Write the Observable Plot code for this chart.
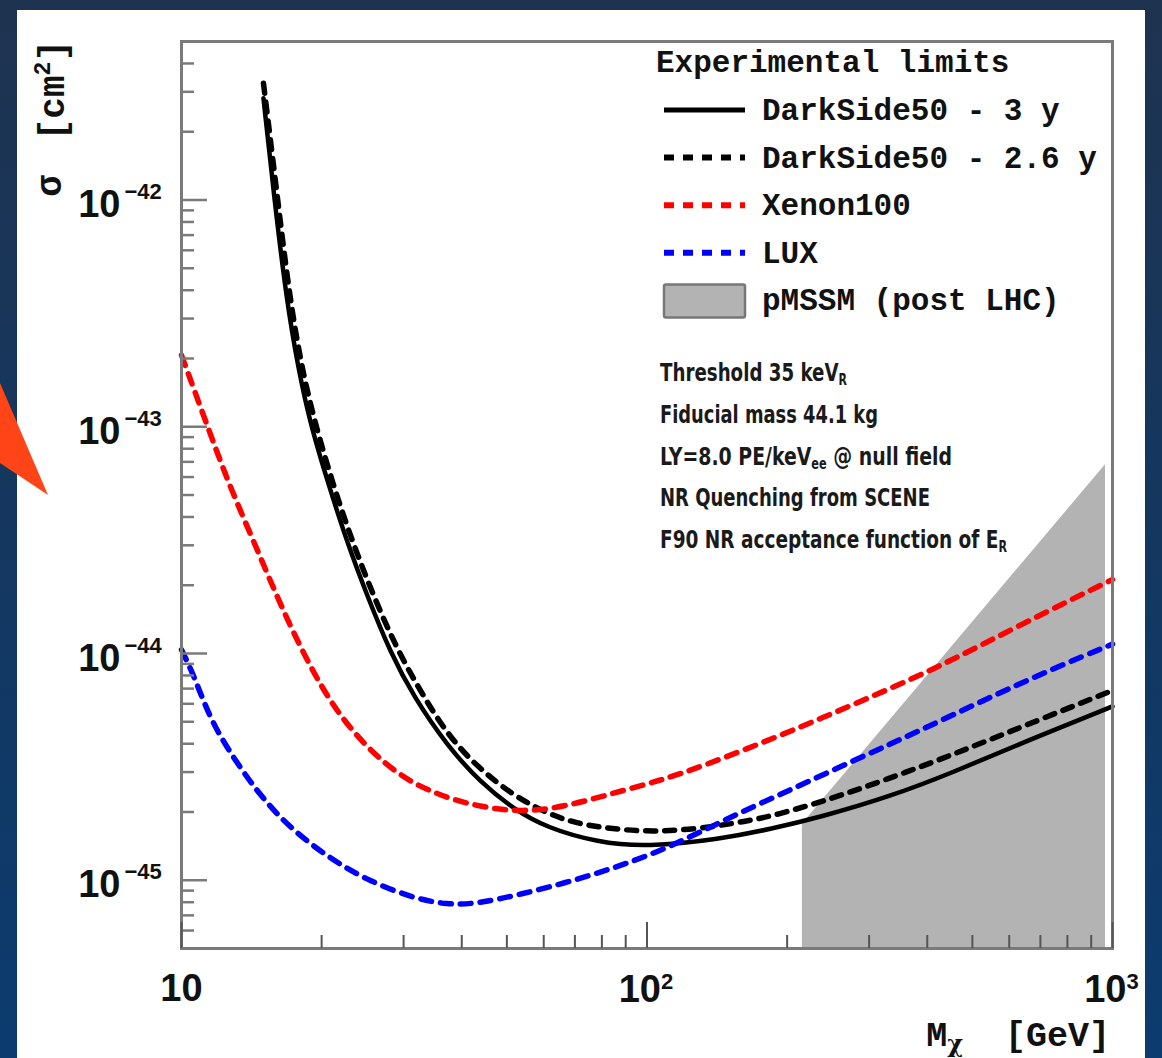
<!DOCTYPE html>
<html>
<head>
<meta charset="utf-8">
<script src="https://cdn.jsdelivr.net/npm/d3@7"></script>
<script src="https://cdn.jsdelivr.net/npm/@observablehq/plot@0.6"></script>
<style>
  html, body { margin: 0; padding: 0; }
  body {
    width: 1162px; height: 1058px; position: relative; overflow: hidden;
    background: linear-gradient(180deg, #1e3350 0%, #14375f 50%, #0b3b6f 100%);
  }
  #panel { position: absolute; left: 17px; top: 10px; width: 1128px; height: 1048px; background: #fff; }
  #chart { position: absolute; left: 0; top: 0; }
  #arrow {
    position: absolute; left: 0; top: 370px; width: 60px; height: 140px; background: #ff4517;
    clip-path: polygon(0px 13px, 48px 125px, 0px 93px);
  }
</style>
</head>
<body>
<div id="panel"></div>
<div id="chart"></div>
<div id="arrow"></div>
<script>
// ---------------- data ----------------
// DarkSide50 - 3 y (solid black)
const ds3Mass  = [15.0, 15.84, 16.81, 17.84, 18.93, 20.7, 22.7, 25.1, 28.1, 31.5, 37.3, 43.9, 51.7, 61.1, 78.3, 100, 144, 184, 236, 329, 455, 634, 1000];
const ds3Sigma = [2.81e-42, 1.0e-42, 3.63e-43, 1.78e-43, 1.02e-43, 5.55e-44, 3.08e-44, 1.78e-44, 1.01e-44, 6.47e-45, 3.89e-45, 2.70e-45, 2.06e-45, 1.70e-45, 1.47e-45, 1.40e-45, 1.52e-45, 1.68e-45, 1.90e-45, 2.32e-45, 2.99e-45, 4.01e-45, 5.84e-45];

// DarkSide50 - 2.6 y (dashed black)
const ds26Mass  = [15.0, 16.0, 16.98, 18.02, 19.2, 21.0, 23.07, 25.6, 28.8, 32.6, 38.4, 47.7, 56.2, 66.2, 78.3, 100, 128, 164, 191, 236, 329, 455, 634, 1000];
const ds26Sigma = [3.27e-42, 1.11e-42, 4.01e-43, 1.93e-43, 1.10e-43, 5.84e-44, 3.28e-44, 1.88e-44, 1.08e-44, 6.8e-45, 3.97e-45, 2.65e-45, 2.14e-45, 1.84e-45, 1.71e-45, 1.63e-45, 1.68e-45, 1.82e-45, 1.95e-45, 2.21e-45, 2.79e-45, 3.59e-45, 4.72e-45, 6.87e-45];

// Xenon100 (red dashed)
const xenonMass  = [10, 11.4, 12.7, 14.4, 16.3, 19.2, 22.7, 29.1, 37.3, 47.7, 61.1, 84.7, 107, 130, 194, 288, 427, 634, 1000];
const xenonSigma = [2.07e-43, 9.9e-44, 5.44e-44, 3.02e-44, 1.64e-44, 8.1e-45, 4.7e-45, 2.86e-45, 2.28e-45, 2.03e-45, 2.01e-45, 2.42e-45, 2.76e-45, 3.15e-45, 4.35e-45, 6.15e-45, 8.77e-45, 1.34e-44, 2.12e-44];

// LUX (blue dashed)
const luxMass  = [10, 10.5, 10.88, 11.71, 13.12, 14.86, 17.21, 20.7, 24.8, 31.0, 37.3, 43.9, 53.5, 67.5, 84.7, 105.3, 128.4, 158.8, 200.3, 287.5, 386.9, 538.9, 746.6, 1000];
const luxSigma = [1.04e-44, 8.42e-45, 7.01e-45, 4.82e-45, 3.31e-45, 2.32e-45, 1.68e-45, 1.26e-45, 1.01e-45, 8.41e-46, 7.76e-46, 7.92e-46, 8.67e-46, 9.79e-46, 1.13e-45, 1.33e-45, 1.61e-45, 1.99e-45, 2.47e-45, 3.48e-45, 4.58e-45, 6.34e-45, 8.59e-45, 1.10e-44];

// pMSSM (post LHC) shaded region
const pmssmMass  = [215.7, 966];
const pmssmLow   = [5e-46, 5e-46];
const pmssmHigh  = [1.77e-45, 6.8e-44];

// axes
const xDomain = [10, 1000];
const yDomain = [5e-46, 5e-42];
const xMajor = [10, 100, 1000];
const xMinor = [20, 30, 40, 50, 60, 70, 80, 90, 200, 300, 400, 500, 600, 700, 800, 900];
const yMajor = [1e-45, 1e-44, 1e-43, 1e-42];
const yMinor = [6e-46, 7e-46, 8e-46, 9e-46,
                2e-45, 3e-45, 4e-45, 5e-45, 6e-45, 7e-45, 8e-45, 9e-45,
                2e-44, 3e-44, 4e-44, 5e-44, 6e-44, 7e-44, 8e-44, 9e-44,
                2e-43, 3e-43, 4e-43, 5e-43, 6e-43, 7e-43, 8e-43, 9e-43,
                2e-42, 3e-42, 4e-42];
const yExpLabels = ["\u221245", "\u221244", "\u221243", "\u221242"];
const xExpLabels = ["", "2", "3"];

// legend and notes
const legendTitle = "Experimental limits";
const legendLabels = ["DarkSide50 - 3 y", "DarkSide50 - 2.6 y", "Xenon100", "LUX", "pMSSM (post LHC)"];
const legendColors = ["#000000", "#000000", "#ff0000", "#0000ff"];
const legendDashes = [null, "10,9", "10,9", "10,9"];
const noteLines = [
  [["Threshold 35 keV", 0], ["R", 1]],
  [["Fiducial mass 44.1 kg", 0]],
  [["LY=8.0 PE/keV", 0], ["ee", 1], [" @ null field", 2]],
  [["NR Quenching from SCENE", 0]],
  [["F90 NR acceptance function of E", 0], ["R", 1]]
];
const noteWidths = [187, 218, 292, 270, 347];

// ---------------- build ----------------
const rows = (ms, ss) => ms.map((m, i) => ({m, s: ss[i]}));
const ds3 = rows(ds3Mass, ds3Sigma);
const ds26 = rows(ds26Mass, ds26Sigma);
const xenon = rows(xenonMass, xenonSigma);
const lux = rows(luxMass, luxSigma);
const pmssm = pmssmMass.map((m, i) => ({m, lo: pmssmLow[i], hi: pmssmHigh[i]}));

const W = 1162, H = 1058, mL = 181, mR = 50, mT = 41, mB = 110;
const pw = W - mL - mR, ph = H - mT - mB;
const numFont = "'Liberation Sans', Arial, Helvetica, sans-serif";
const monoFont = "'Liberation Mono', 'Courier New', Courier, monospace";

const svg = Plot.plot({
  width: W, height: H,
  marginLeft: mL, marginRight: mR, marginTop: mT, marginBottom: mB,
  style: {background: "transparent", overflow: "visible"},
  x: {type: "log", domain: xDomain, axis: null},
  y: {type: "log", domain: yDomain, axis: null},
  marks: [
    Plot.areaY(pmssm, {x: "m", y1: "lo", y2: "hi", fill: "#b3b3b3", curve: "linear"}),
    Plot.line(ds3, {x: "m", y: "s", stroke: "#000", strokeWidth: 4.5, curve: "basis"}),
    Plot.line(ds26, {x: "m", y: "s", stroke: "#000", strokeWidth: 5.5, strokeDasharray: "10,9", curve: "basis"}),
    Plot.line(xenon, {x: "m", y: "s", stroke: "#ff0000", strokeWidth: 5.5, strokeDasharray: "11,9", curve: "basis"}),
    Plot.line(lux, {x: "m", y: "s", stroke: "#0000ff", strokeWidth: 5.5, strokeDasharray: "11,9", curve: "basis"}),
    Plot.frame({stroke: "#7a7a7a", strokeWidth: 3}),
    Plot.tickY(yMajor, {y: d => d, stroke: "#7a7a7a", strokeWidth: 2.5, insetRight: pw - 26}),
    Plot.tickY(yMinor, {y: d => d, stroke: "#7a7a7a", strokeWidth: 2.5, insetRight: pw - 13}),
    Plot.tickX(xMajor, {x: d => d, stroke: "#555", strokeWidth: 2, insetTop: ph - 26}),
    Plot.tickX(xMinor, {x: d => d, stroke: "#555", strokeWidth: 2, insetTop: ph - 13}),
    // y tick labels
    Plot.text(yMajor, {y: d => d, text: () => "10", frameAnchor: "left", textAnchor: "end", dx: -61, dy: 5,
      fontSize: 38, fontWeight: "bold", fontFamily: numFont, fill: "#111"}),
    Plot.text(yMajor, {y: d => d, text: (d, i) => yExpLabels[i], frameAnchor: "left", textAnchor: "start", dx: -57, dy: -8,
      fontSize: 22, fontWeight: "bold", fontFamily: numFont, fill: "#111"}),
    // x tick labels
    Plot.text(xMajor.slice(0, 1), {x: d => d, text: () => "10", frameAnchor: "bottom", textAnchor: "middle", dy: 52,
      fontSize: 38, fontWeight: "bold", fontFamily: numFont, fill: "#111"}),
    Plot.text(xMajor.slice(1), {x: d => d, text: () => "10", frameAnchor: "bottom", textAnchor: "end", dx: 14, dy: 53,
      fontSize: 38, fontWeight: "bold", fontFamily: numFont, fill: "#111"}),
    Plot.text(xMajor.slice(1), {x: d => d, text: (d, i) => xExpLabels[i + 1], frameAnchor: "bottom", textAnchor: "start", dx: 14, dy: 40,
      fontSize: 22, fontWeight: "bold", fontFamily: numFont, fill: "#111"})
  ]
});

const root = d3.select(svg);
const over = root.append("g").attr("text-anchor", "start");

// y title
over.append("text")
  .attr("transform", "translate(61,186) rotate(-90)")
  .attr("text-anchor", "middle")
  .attr("font-family", monoFont).attr("font-weight", "bold").attr("font-size", 36).attr("fill", "#111")
  .text("\u03c3");
const yt = over.append("text")
  .attr("transform", "translate(64,40) rotate(-90)")
  .attr("text-anchor", "end")
  .attr("font-family", monoFont).attr("font-weight", "bold").attr("font-size", 36).attr("fill", "#111");
yt.append("tspan").text("[cm");
yt.append("tspan").attr("dy", -14).attr("font-size", 23).text("2");
yt.append("tspan").attr("dy", 14).text("]");

// x title
const xt = over.append("text")
  .attr("x", 1110).attr("y", 1046)
  .attr("text-anchor", "end")
  .attr("font-family", monoFont).attr("font-weight", "bold").attr("font-size", 35).attr("fill", "#111");
xt.append("tspan").text("M");
xt.append("tspan").attr("dy", 6).attr("font-size", 24).attr("font-family", "'DejaVu Serif', serif").text("\u03c7");
xt.append("tspan").attr("dy", -6).text("\u00a0\u00a0[GeV]");

// legend
const leg = over.append("g").attr("text-anchor", "start")
  .attr("font-family", monoFont).attr("font-weight", "bold").attr("font-size", 31).attr("fill", "#111");
leg.append("text").attr("x", 656).attr("y", 72).text(legendTitle);
legendLabels.forEach((lab, i) => {
  const cy = 110 + i * 47.6;
  if (i < 4) {
    const ln = leg.append("line").attr("x1", 664).attr("x2", 745).attr("y1", cy).attr("y2", cy)
      .attr("stroke", legendColors[i]).attr("stroke-width", i === 0 ? 5 : 6);
    if (legendDashes[i]) ln.attr("stroke-dasharray", legendDashes[i]);
  } else {
    leg.append("rect").attr("x", 664).attr("y", cy - 16).attr("width", 81).attr("height", 33)
      .attr("rx", 2).attr("fill", "#b3b3b3").attr("stroke", "#777").attr("stroke-width", 2.5);
  }
  leg.append("text").attr("x", 762).attr("y", cy + 10).text(lab);
});

// notes
const notes = over.append("g").attr("text-anchor", "start")
  .attr("font-family", "'Liberation Sans Narrow', 'DejaVu Sans Condensed', 'Roboto', sans-serif")
  .attr("font-weight", "bold").attr("font-size", 25).attr("fill", "#1a1a1a");
noteLines.forEach((segs, i) => {
  const t = notes.append("text").attr("x", 660).attr("y", 381 + i * 41.8)
    .attr("textLength", noteWidths[i]).attr("lengthAdjust", "spacingAndGlyphs");
  let shifted = false;
  segs.forEach(([s, kind]) => {
    const ts = t.append("tspan").text(s);
    if (kind === 1) { ts.attr("font-size", 15).attr("dy", 4); shifted = true; }
    else if (kind === 2 && shifted) { ts.attr("dy", -4); shifted = false; }
  });
});

document.getElementById("chart").appendChild(svg);
</script>
</body>
</html>
